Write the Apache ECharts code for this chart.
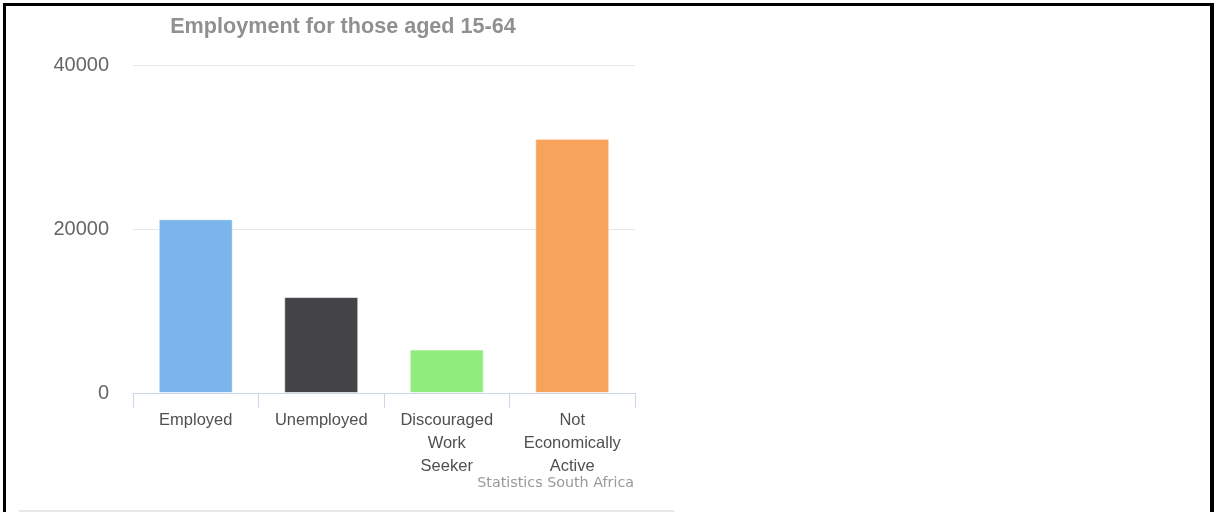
<!DOCTYPE html>
<html>
<head>
<meta charset="utf-8">
<script src="https://cdn.jsdelivr.net/npm/echarts@6/dist/echarts.min.js"></script>
<style>
  html, body { margin: 0; padding: 0; background: #fff; }
  #chart { position: absolute; left: 0; top: 0; width: 1216px; height: 512px; }
  .edge { position: absolute; background: #000; }
</style>
</head>
<body>
<div id="chart"></div>
<div class="edge" style="left:3px;top:3px;width:3px;height:509px;"></div>
<div class="edge" style="left:3px;top:3px;width:1211px;height:3px;"></div>
<div class="edge" style="left:1210px;top:3px;width:4px;height:509px;"></div>
<script>
// Labour-force status, people aged 15-64 (thousands)
const categories = ['Employed', 'Unemployed', 'Discouraged\nWork\nSeeker', 'Not\nEconomically\nActive'];
const values = [21200, 11700, 5300, 31000];
const barColors = ['#7cb5ec', '#434348', '#90ed7d', '#f7a35c'];
const yTicks = [0, 20000, 40000];

const chart = echarts.init(document.getElementById('chart'), null, { renderer: 'canvas' });

chart.setOption({
  animation: false,
  grid: { left: 133, right: 581, top: 65, bottom: 119, containLabel: false },
  xAxis: {
    type: 'category',
    data: categories,
    axisLine: { lineStyle: { color: '#ccd6eb', width: 1 } },
    axisTick: { show: true, length: 15, lineStyle: { color: '#ccd6eb' } },
    axisLabel: {
      color: '#505050',
      fontFamily: 'Liberation Sans, Arial, sans-serif',
      fontSize: 16.5,
      lineHeight: 23,
      margin: 16,
      interval: 0
    }
  },
  yAxis: {
    type: 'value',
    min: yTicks[0],
    max: yTicks[yTicks.length - 1],
    interval: yTicks[1] - yTicks[0],
    axisLine: { show: false },
    axisTick: { show: false },
    splitLine: { lineStyle: { color: '#e6e6e6', width: 1 } },
    axisLabel: {
      color: '#666666',
      fontFamily: 'Liberation Sans, Arial, sans-serif',
      fontSize: 20,
      margin: 24,
      formatter: (v) => String(v)
    }
  },
  series: [{
    type: 'bar',
    data: values.map((v, i) => ({ value: v, itemStyle: { color: barColors[i] } })),
    barWidth: '59%',
    itemStyle: { borderColor: 'rgba(255,255,255,0.6)', borderWidth: 1 }
  }],
  graphic: [
    {
      type: 'text',
      x: 343, y: 27,
      style: {
        text: 'Employment for those aged 15-64',
        fill: '#909090',
        font: 'bold 21.6px "Liberation Sans", Arial, sans-serif',
        textAlign: 'center',
        textVerticalAlign: 'middle'
      }
    },
    {
      type: 'text',
      x: 634, y: 483,
      style: {
        text: 'Statistics South Africa',
        fill: '#999999',
        font: '14.3px "DejaVu Sans", Verdana, sans-serif',
        textAlign: 'right',
        textVerticalAlign: 'middle'
      }
    },
    {
      type: 'rect',
      shape: { x: 19, y: 510, width: 655, height: 2 },
      style: { fill: '#e8e8e8' }
    }
  ]
});
</script>
</body>
</html>
